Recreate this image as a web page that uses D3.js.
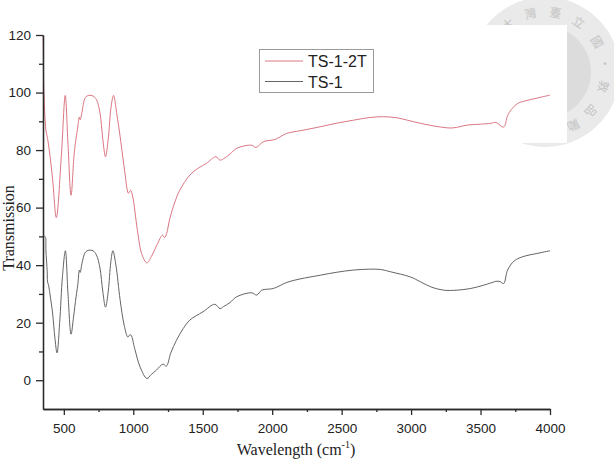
<!DOCTYPE html>
<meta charset="utf-8">
<style>
	body { margin: 0; background: #fff; }
	.axis path, .axis line { stroke: #2a2a2a; stroke-width: 1.3px; }
	.axis text { font: 13.5px "Liberation Sans", Arial, sans-serif; fill: #222; }
	.title { font: 16px "Liberation Serif", "Times New Roman", serif; fill: #222; }
	.legend text { font: 16px "Liberation Sans", Arial, sans-serif; fill: #222; }
	.seal text { font: 12px "Noto Sans CJK TC", sans-serif; fill: #c4c4c4; }
</style>
<svg id="ftir" width="614" height="471"></svg>
<script src="https://d3js.org/d3.v7.min.js"></script>
<script>
	// TS-1-2T (upper, red) : wavenumber / transmission
	var ts2tWave = [350,352,356,371,383,395,419,446,482,510,530,552,575,600,612,618,630,655,680,710,735,760,780,800,820,840,858,880,910,940,965,980,995,1030,1060,1098,1130,1170,1210,1225,1240,1262,1300,1334,1407,1470,1527,1594,1625,1650,1696,1744,1852,1883,1936,2021,2105,2200,2346,2460,2586,2700,2803,2900,2972,3068,3213,3300,3406,3500,3574,3611,3666,3695,3720,3767,3815,3900,4000];
	var ts2tTrans = [120,116,101,87,84,80,70,56.5,78,99,82,64.3,79,88,91.5,90.5,93,98.3,99,98.8,97.5,93,84,77.7,84,95,99,93,83,72,65,66,64,52,44,40.8,43,47,50.4,49.6,51,56,62,66,71.3,73.8,75.4,77.7,76.5,77,78.6,80.6,81.7,80.9,82.9,83.7,85.8,86.7,88.1,89.3,90.4,91.3,91.6,91.2,90.4,89.3,88,87.7,88.7,89,89.3,89.6,88,92,94,96.2,97,98,99.1];

	// TS-1 (lower, black)
	var ts1Wave = [355,366,371,380,383,390,400,419,435,451,470,490,511,530,552,570,588,600,612,618,630,655,680,710,735,760,780,800,820,838,853,875,905,935,961,975,985,1010,1050,1098,1130,1166,1214,1238,1270,1311,1360,1407,1502,1587,1624,1650,1696,1744,1852,1889,1925,2009,2105,2200,2346,2460,2586,2700,2780,2852,2995,3068,3150,3236,3330,3430,3520,3598,3611,3640,3666,3695,3743,3815,3900,4000];
	var ts1Trans = [50,49.9,45,38,34.2,33,30,23.3,15,9.5,20,36,45,30,16,22,29,33,38.3,37.5,40.5,44.5,45.2,45,43.5,39,31,25.4,31,41,45,40,28,19,15,15.8,15.6,11,4.5,0.6,2,3.5,5.6,4.9,9.5,13.9,18,20.9,23.8,26.4,24.9,25.6,27,29,30.4,29.6,31.3,31.9,34,35.2,36.5,37.5,38.3,38.6,38.5,37.7,35.9,34.2,32.3,31.3,31.3,31.9,33,34.2,34.4,34.3,33.6,38.3,41.5,43.1,44,45];

	var seriesNames = ["TS-1-2T", "TS-1"];
	var seriesColors = ["#db7682", "#646464"];
	var xMajorTicks = [500,1000,1500,2000,2500,3000,3500,4000];
	var xMinorTicks = [750,1250,1750,2250,2750,3250,3750];
	var yMajorTicks = [0,20,40,60,80,100,120];
	var yMinorTicks = [10,30,50,70,90,110];
	var sealChars = ["大","灣","臺","立","國","·","敦","品","勵"];

	var svg = d3.select("#ftir"),
		plotLeft = 43, plotRight = 550, plotTop = 35, plotBottom = 409;

	// faint seal watermark behind the figure
	var seal = svg.append("g").attr("class", "seal");
	seal.append("circle").attr("cx", 545).attr("cy", 72).attr("r", 75).attr("fill", "#eaeaea");
	seal.append("circle").attr("cx", 545).attr("cy", 72).attr("r", 46).attr("fill", "#dcdcdc");
	var sealAngles = [-128,-104,-80,-56,-30,-8,14,40,62];
	seal.selectAll("text").data(sealChars).enter().append("text")
		.attr("text-anchor", "middle")
		.attr("dy", "0.35em")
		.attr("transform", function(d, i) {
			var a = sealAngles[i] * Math.PI / 180;
			return "translate(" + (545 + 60 * Math.cos(a)) + "," + (72 + 60 * Math.sin(a)) + ")rotate(" + (sealAngles[i] + 90) + ")";
		})
		.text(function(d) { return d; });
	svg.append("rect").attr("x", 0).attr("y", 25).attr("width", 567).attr("height", 118).attr("fill", "#fff");

	var x = d3.scaleLinear().domain([350, 4000]).range([plotLeft, plotRight]),
		y = d3.scaleLinear().domain([-10, 120]).range([plotBottom, plotTop]);

	var line = d3.line()
		.curve(d3.curveCatmullRom.alpha(0.5))
		.x(function(d) { return x(d[0]); })
		.y(function(d) { return y(d[1]); });

	var series = [
		{name: seriesNames[0], color: seriesColors[0], values: d3.zip(ts2tWave, ts2tTrans)},
		{name: seriesNames[1], color: seriesColors[1], values: d3.zip(ts1Wave, ts1Trans)}
	];

	svg.selectAll(".spectrum")
		.data(series)
		.enter().append("path")
		.attr("class", "spectrum")
		.attr("fill", "none")
		.attr("stroke", function(d) { return d.color; })
		.attr("stroke-width", 1)
		.attr("d", function(d) { return line(d.values); });

	// axes
	svg.append("g")
		.attr("class", "axis")
		.attr("transform", "translate(0," + plotBottom + ")")
		.call(d3.axisBottom(x).tickValues(xMinorTicks).tickSize(3).tickFormat("").tickSizeOuter(0));
	svg.append("g")
		.attr("class", "axis")
		.attr("transform", "translate(0," + plotBottom + ")")
		.call(d3.axisBottom(x).tickValues(xMajorTicks).tickSize(6).tickPadding(8).tickFormat(d3.format("d")).tickSizeOuter(0));

	svg.append("g")
		.attr("class", "axis")
		.attr("transform", "translate(" + plotLeft + ",0)")
		.call(d3.axisLeft(y).tickValues(yMinorTicks).tickSize(4).tickFormat("").tickSizeOuter(0));
	svg.append("g")
		.attr("class", "axis")
		.attr("transform", "translate(" + plotLeft + ",0)")
		.call(d3.axisLeft(y).tickValues(yMajorTicks).tickSize(7).tickPadding(5).tickFormat(d3.format("d")).tickSizeOuter(0));

	// titles
	var xt = svg.append("text").attr("class", "title")
		.attr("x", 296).attr("y", 455).attr("text-anchor", "middle");
	xt.append("tspan").text("Wavelength (cm");
	xt.append("tspan").attr("dy", -7).style("font-size", "10px").text("-1");
	xt.append("tspan").attr("dy", 7).text(")");

	svg.append("text").attr("class", "title")
		.attr("transform", "translate(14,228)rotate(-90)")
		.attr("text-anchor", "middle")
		.text("Transmission");

	// legend
	var legend = svg.append("g").attr("class", "legend");
	legend.append("rect")
		.attr("x", 259.5).attr("y", 49.5).attr("width", 114).attr("height", 43)
		.attr("fill", "#fff").attr("stroke", "#9a9a9a");
	var item = legend.selectAll(".item")
		.data(series)
		.enter().append("g")
		.attr("class", "item")
		.attr("transform", function(d, i) { return "translate(0," + (61 + i * 20.5) + ")"; });
	item.append("line")
		.attr("x1", 265).attr("x2", 303)
		.attr("stroke", function(d) { return d.color; })
		.attr("stroke-width", 1);
	item.append("text")
		.attr("x", 308).attr("y", 6)
		.text(function(d) { return d.name; });
</script>
